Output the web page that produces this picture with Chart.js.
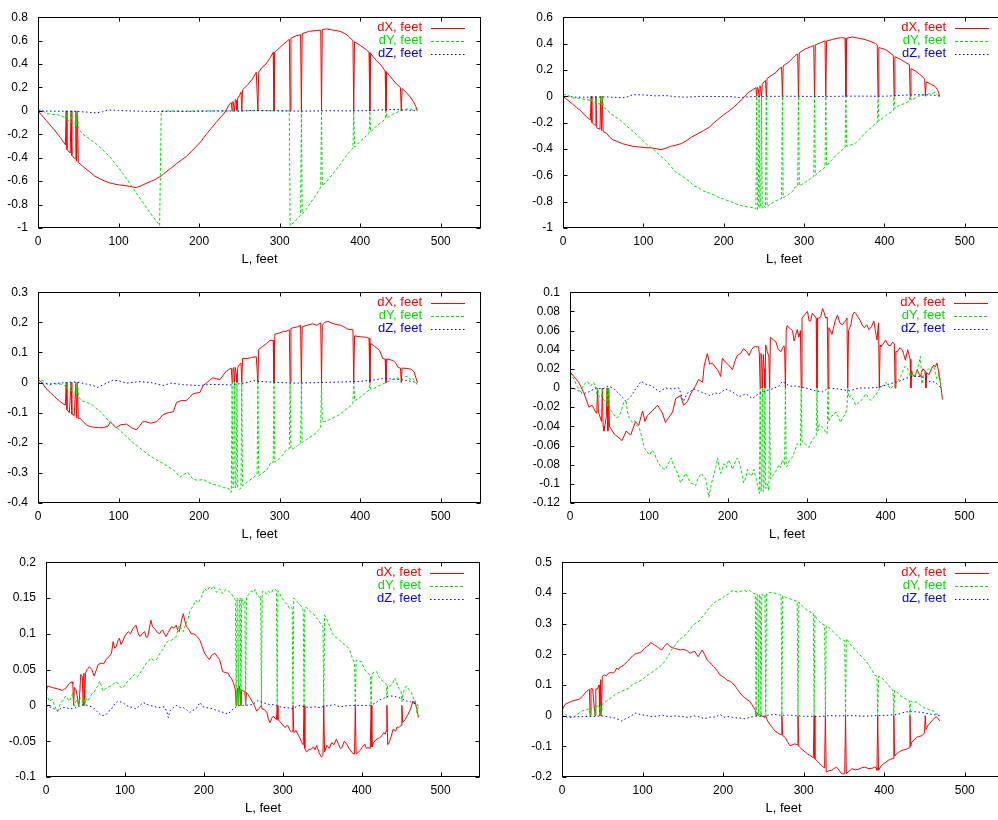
<!DOCTYPE html>
<html>
<head>
<meta charset="utf-8">
<script src="https://cdn.jsdelivr.net/npm/chart.js@4.4.1/dist/chart.umd.min.js"></script>
<style>
  html, body { margin: 0; padding: 0; background: #fff; overflow: hidden; width: 998px; height: 820px; }
  canvas { position: absolute; }
</style>
</head>
<body>
<canvas id="c1"></canvas>
<canvas id="c2"></canvas>
<canvas id="c3"></canvas>
<canvas id="c4"></canvas>
<canvas id="c5"></canvas>
<canvas id="c6"></canvas>
<script>
// series names and tick labels
const seriesNames = ['dX, feet', 'dY, feet', 'dZ, feet'];
const xTicks = [0, 100, 200, 300, 400, 500];
const yTicks1 = [-1, -0.8, -0.6, -0.4, -0.2, 0, 0.2, 0.4, 0.6, 0.8];
const yTicks2 = [-1, -0.8, -0.6, -0.4, -0.2, 0, 0.2, 0.4, 0.6];
const yTicks3 = [-0.4, -0.3, -0.2, -0.1, 0, 0.1, 0.2, 0.3];
const yTicks4 = [-0.12, -0.1, -0.08, -0.06, -0.04, -0.02, 0, 0.02, 0.04, 0.06, 0.08, 0.1];
const yTicks5 = [-0.1, -0.05, 0, 0.05, 0.1, 0.15, 0.2];
const yTicks6 = [-0.2, -0.1, 0, 0.1, 0.2, 0.3, 0.4, 0.5];

// panel 1, [L, value]
const p1X = [[0,0],[10,-0.08],[20,-0.16],[28,-0.23],[34,-0.29],[35,0],[36,-0.33],[40,-0.36],[41,0],[42,-0.38],[46,-0.41],[47,0],[48,-0.43],[49,0],[50,-0.44],[55,-0.47],[64,-0.52],[70,-0.555],[77,-0.58],[83,-0.6],[89,-0.615],[95,-0.625],[101,-0.632],[108,-0.638],[114,-0.645],[122,-0.655],[128,-0.64],[134,-0.62],[141,-0.6],[147,-0.58],[153,-0.555],[159,-0.52],[165,-0.49],[172,-0.45],[178,-0.42],[184,-0.39],[190,-0.35],[197,-0.3],[203,-0.255],[209,-0.2],[215,-0.15],[221,-0.1],[226,-0.06],[230,-0.03],[234,0.01],[238,0.06],[240,0.07],[241,0],[242,0.08],[243,0.05],[244,0],[245,0.1],[246,0.09],[247,0],[248,0.11],[250,0.13],[252,0.16],[253,0],[254,0.18],[260,0.22],[266,0.27],[271,0.33],[273,0],[274,0.33],[278,0.37],[283,0.4],[288,0.45],[292,0.5],[293,0],[294,0.5],[300,0.54],[305,0.57],[310,0.6],[312,0.61],[313,0],[314,0.62],[320,0.64],[326,0.65],[327,0],[328,0.66],[337,0.68],[344,0.685],[351,0.69],[352,0],[353,0.695],[358,0.7],[366,0.69],[375,0.68],[381,0.66],[385,0.64],[391,0.6],[392,0],[393,0.59],[400,0.56],[408,0.52],[411,0.5],[412,0],[413,0.49],[420,0.43],[426,0.39],[431,0.34],[432,0],[433,0.33],[440,0.27],[445,0.23],[450,0.2],[451,0],[452,0.19],[457,0.16],[462,0.12],[466,0.08],[469,0.04],[471,0]];
const p1Y = [[0,0.01],[5,0.005],[10,-0.02],[16,-0.03],[22,-0.03],[28,-0.04],[34,-0.06],[35,0],[36,-0.08],[40,-0.09],[41,0],[42,-0.1],[46,-0.12],[47,0],[48,-0.13],[49,0],[50,-0.15],[56,-0.2],[64,-0.24],[72,-0.28],[80,-0.33],[89,-0.39],[97,-0.46],[106,-0.54],[114,-0.62],[122,-0.7],[128,-0.76],[134,-0.82],[140,-0.88],[146,-0.93],[151,-0.98],[153,0],[160,0],[180,-0.003],[200,0],[240,0],[280,0.002],[312,0],[313,-0.98],[318,-0.95],[322,-0.92],[326,-0.89],[327,0],[328,-0.88],[333,-0.84],[340,-0.77],[346,-0.71],[351,-0.65],[352,0],[353,-0.64],[360,-0.59],[368,-0.52],[375,-0.46],[383,-0.38],[388,-0.34],[391,-0.32],[392,0],[393,-0.31],[400,-0.26],[408,-0.21],[411,-0.19],[412,0],[413,-0.18],[420,-0.13],[426,-0.1],[431,-0.07],[432,0],[433,-0.06],[440,-0.03],[445,-0.015],[450,0],[455,0.01],[461,0.02],[465,0.01],[468,0.02],[471,0]];
const p1Z = [[0,0],[15,-0.002],[30,-0.003],[45,-0.004],[60,-0.01],[72,-0.017],[80,-0.008],[86,0.005],[92,0.008],[100,0.003],[115,0],[130,-0.003],[150,-0.006],[170,-0.003],[190,-0.004],[210,-0.002],[230,0],[250,-0.002],[268,0.005],[280,0.002],[300,0],[330,-0.002],[360,0.001],[390,0],[410,0.002],[430,0.01],[445,0.012],[460,0.006],[471,0]];

// panel 2
const p2X = [[0,0],[6,-0.03],[12,-0.06],[17,-0.086],[22,-0.11],[28,-0.15],[34,-0.18],[35,0],[36,-0.2],[40,-0.22],[41,0],[42,-0.24],[46,-0.25],[47,0],[48,-0.26],[49,0],[50,-0.27],[54,-0.28],[58,-0.31],[62,-0.33],[68,-0.345],[74,-0.36],[80,-0.37],[87,-0.38],[95,-0.385],[103,-0.39],[110,-0.392],[116,-0.398],[122,-0.405],[128,-0.395],[134,-0.38],[140,-0.372],[147,-0.36],[153,-0.34],[160,-0.31],[169,-0.28],[175,-0.26],[182,-0.235],[188,-0.2],[194,-0.17],[200,-0.14],[207,-0.11],[213,-0.08],[219,-0.045],[225,-0.01],[230,0.025],[236,0.05],[240,0.065],[241,0],[242,0.07],[243,0.05],[244,0],[245,0.08],[246,0.06],[247,0],[248,0.09],[250,0.11],[252,0.12],[253,0],[254,0.135],[260,0.16],[265,0.18],[269,0.21],[272,0.22],[273,0],[274,0.23],[281,0.26],[286,0.29],[289,0.31],[292,0.32],[293,0],[294,0.33],[302,0.36],[308,0.375],[312,0.385],[313,0],[314,0.39],[320,0.405],[326,0.42],[327,0],[328,0.42],[335,0.43],[341,0.44],[347,0.445],[351,0.44],[352,0],[353,0.44],[360,0.45],[368,0.44],[376,0.43],[383,0.415],[389,0.4],[391,0.39],[392,0],[393,0.37],[401,0.355],[407,0.33],[411,0.31],[412,0],[413,0.3],[420,0.28],[426,0.257],[431,0.24],[432,0],[433,0.21],[439,0.19],[444,0.165],[449,0.14],[450,0.125],[451,0],[452,0.11],[458,0.09],[463,0.075],[466,0.05],[469,0]];
const p2Y = [[0,0.015],[5,0.01],[12,-0.012],[20,-0.015],[28,-0.025],[34,-0.03],[35,0],[36,-0.04],[40,-0.045],[41,0],[42,-0.05],[46,-0.06],[47,0],[48,-0.07],[49,0],[50,-0.08],[54,-0.1],[60,-0.135],[66,-0.16],[72,-0.185],[78,-0.22],[86,-0.26],[95,-0.31],[103,-0.36],[112,-0.4],[120,-0.445],[128,-0.49],[134,-0.53],[140,-0.575],[147,-0.6],[157,-0.645],[163,-0.68],[169,-0.695],[175,-0.72],[182,-0.735],[188,-0.75],[194,-0.77],[200,-0.78],[207,-0.797],[213,-0.81],[219,-0.826],[225,-0.835],[231,-0.84],[236,-0.845],[240,-0.855],[241,0],[242,-0.86],[243,-0.84],[244,0],[245,-0.85],[246,-0.84],[247,0],[248,-0.85],[250,-0.83],[252,-0.845],[253,0],[254,-0.84],[259,-0.815],[264,-0.797],[268,-0.785],[272,-0.775],[273,0],[274,-0.77],[281,-0.745],[286,-0.72],[289,-0.69],[292,-0.685],[293,0],[294,-0.68],[302,-0.65],[308,-0.625],[312,-0.61],[313,0],[314,-0.6],[318,-0.576],[324,-0.55],[326,-0.54],[327,0],[328,-0.53],[335,-0.48],[341,-0.44],[347,-0.41],[351,-0.39],[352,0],[353,-0.38],[358,-0.37],[364,-0.355],[370,-0.32],[376,-0.28],[382,-0.245],[388,-0.215],[391,-0.2],[392,0],[393,-0.19],[401,-0.15],[407,-0.125],[411,-0.11],[412,0],[413,-0.095],[417,-0.075],[423,-0.06],[430,-0.04],[431,-0.035],[432,0],[433,-0.03],[438,-0.015],[442,0],[448,0.008],[455,0.017],[460,0.025],[463,0.03],[466,0.01],[469,0]];
const p2Z = [[0,0],[16,-0.007],[37,-0.007],[54,-0.005],[74,-0.012],[82,-0.002],[87,0.012],[100,0.01],[115,0.003],[128,0.005],[140,-0.003],[153,-0.007],[170,-0.001],[190,-0.002],[210,-0.003],[219,-0.01],[235,-0.003],[252,-0.001],[280,0],[320,-0.002],[360,0.001],[400,0],[430,0.01],[442,0.012],[455,0.01],[463,0.007],[469,0]];

// panel 3
const p3X = [[0,0.01],[5,0],[10,-0.02],[16,-0.035],[21,-0.048],[26,-0.06],[31,-0.07],[34,-0.075],[35,0],[36,-0.09],[39,-0.1],[41,0],[42,-0.105],[45,-0.11],[47,0],[48,-0.118],[49,0],[50,-0.12],[52,-0.118],[56,-0.13],[60,-0.14],[64,-0.146],[68,-0.148],[75,-0.15],[81,-0.15],[87,-0.145],[90,-0.13],[93,-0.14],[97,-0.15],[103,-0.14],[110,-0.138],[116,-0.15],[122,-0.157],[126,-0.145],[130,-0.13],[134,-0.13],[140,-0.135],[147,-0.13],[151,-0.12],[155,-0.107],[162,-0.1],[168,-0.097],[172,-0.066],[178,-0.06],[184,-0.06],[188,-0.05],[192,-0.038],[196,-0.035],[201,-0.033],[205,-0.01],[210,0],[214,0.01],[217,0.016],[222,0.012],[226,0.01],[230,0.025],[234,0.038],[238,0.045],[240,0.048],[241,0],[242,0.045],[243,0.05],[244,0],[245,0.05],[246,0.03],[247,0],[248,0.05],[250,0.06],[252,0.065],[253,0],[254,0.08],[260,0.08],[265,0.083],[271,0.086],[273,0],[274,0.11],[279,0.12],[284,0.13],[288,0.14],[292,0.14],[293,0],[294,0.16],[300,0.165],[305,0.17],[308,0.17],[312,0.175],[313,0],[314,0.18],[317,0.182],[322,0.185],[326,0.19],[327,0],[328,0.185],[334,0.19],[341,0.195],[346,0.19],[351,0.198],[352,0],[353,0.19],[356,0.2],[360,0.203],[365,0.197],[370,0.193],[376,0.19],[381,0.183],[385,0.177],[391,0.175],[392,0],[393,0.155],[400,0.152],[408,0.15],[411,0.147],[412,0],[413,0.13],[418,0.12],[424,0.107],[428,0.08],[431,0.078],[432,0],[433,0.078],[438,0.075],[441,0.073],[444,0.065],[447,0.05],[450,0.048],[451,0],[452,0.048],[457,0.047],[462,0.045],[464,0.043],[467,0.035],[471,0]];
const p3Y = [[0,0.02],[3,0.01],[7,0.005],[14,-0.01],[18,-0.003],[23,-0.005],[28,-0.005],[33,-0.01],[34,-0.012],[35,0],[36,-0.02],[40,-0.025],[41,0],[42,-0.03],[46,-0.035],[47,0],[48,-0.04],[49,0],[50,-0.045],[54,-0.06],[60,-0.065],[64,-0.07],[68,-0.075],[72,-0.086],[77,-0.095],[81,-0.107],[87,-0.125],[93,-0.14],[100,-0.155],[106,-0.17],[112,-0.185],[118,-0.2],[124,-0.212],[130,-0.225],[137,-0.24],[143,-0.25],[149,-0.26],[155,-0.268],[162,-0.28],[168,-0.29],[172,-0.3],[176,-0.315],[180,-0.306],[186,-0.298],[192,-0.32],[198,-0.325],[205,-0.322],[211,-0.33],[217,-0.338],[224,-0.342],[230,-0.349],[236,-0.35],[240,-0.365],[241,0],[242,-0.35],[243,-0.345],[244,0],[245,-0.35],[246,-0.34],[247,0],[248,-0.35],[250,-0.355],[252,-0.35],[253,0],[254,-0.343],[260,-0.33],[267,-0.316],[272,-0.305],[273,0],[274,-0.31],[279,-0.3],[284,-0.29],[290,-0.263],[292,-0.265],[293,0],[294,-0.265],[300,-0.252],[304,-0.24],[308,-0.225],[312,-0.22],[313,0],[314,-0.22],[317,-0.22],[322,-0.21],[325,-0.204],[326,-0.2],[327,0],[328,-0.2],[333,-0.19],[337,-0.182],[342,-0.175],[348,-0.16],[351,-0.15],[352,0],[353,-0.13],[358,-0.128],[366,-0.118],[372,-0.11],[379,-0.097],[384,-0.085],[387,-0.08],[391,-0.07],[392,0],[393,-0.06],[397,-0.055],[402,-0.045],[408,-0.032],[411,-0.025],[412,0],[413,-0.022],[416,-0.021],[422,-0.012],[428,-0.005],[432,0],[436,0.005],[441,0.011],[446,0.015],[449,0.013],[452,0.01],[456,0.02],[459,0.021],[462,0.01],[465,0.015],[468,0.005],[471,-0.008]];
const p3Z = [[0,0],[14,-0.005],[35,0],[47,0.002],[60,-0.005],[68,-0.01],[74,-0.016],[85,-0.002],[93,0.008],[100,0.006],[110,-0.002],[125,0.003],[140,0],[155,-0.01],[165,-0.002],[180,-0.007],[200,-0.01],[215,-0.006],[240,-0.008],[260,0],[267,0.006],[280,0.003],[300,0],[320,-0.002],[350,0],[380,0.002],[400,0.004],[415,0.008],[428,0.013],[440,0.012],[455,0.008],[471,0]];

// panel 4
const p4X = [[0,0.017],[5,0.012],[11,0.006],[18,-0.006],[24,-0.02],[28,-0.018],[33,-0.026],[34,-0.023],[35,0],[36,-0.025],[40,-0.035],[41,0],[42,-0.04],[43,-0.045],[46,-0.03],[47,0],[48,-0.045],[49,0],[50,-0.04],[56,-0.048],[62,-0.052],[66,-0.055],[71,-0.045],[77,-0.049],[83,-0.035],[87,-0.039],[92,-0.024],[95,-0.035],[98,-0.029],[104,-0.024],[111,-0.018],[117,-0.026],[121,-0.036],[125,-0.031],[130,-0.025],[134,-0.011],[140,-0.008],[144,-0.018],[149,-0.014],[153,-0.006],[159,0.002],[163,0.009],[168,0.006],[170,0.023],[174,0.036],[177,0.025],[180,0.026],[184,0.022],[187,0.019],[191,0.012],[193,0.031],[197,0.027],[201,0.024],[206,0.019],[209,0.028],[212,0.034],[216,0.036],[220,0.041],[224,0.038],[227,0.034],[230,0.04],[233,0.043],[239,0.043],[240,0.035],[241,0],[242,0.036],[243,0.03],[244,0],[245,0.035],[246,0.02],[247,0],[248,0.045],[250,0.038],[252,0.033],[253,0],[254,0.053],[258,0.05],[261,0.048],[264,0.04],[267,0.038],[271,0.044],[272,0.042],[273,0],[274,0.06],[275,0.065],[279,0.062],[282,0.06],[284,0.049],[286,0.055],[288,0.061],[290,0.053],[292,0.06],[293,0],[294,0.073],[297,0.076],[301,0.08],[303,0.07],[305,0.07],[307,0.078],[309,0.076],[312,0.073],[313,0],[314,0.073],[316,0.073],[318,0.075],[320,0.083],[322,0.079],[324,0.073],[326,0.074],[327,0],[328,0.063],[332,0.056],[336,0.07],[339,0.076],[342,0.068],[345,0.066],[349,0.07],[351,0.073],[352,0],[353,0.06],[356,0.066],[358,0.076],[360,0.079],[362,0.078],[365,0.074],[368,0.07],[370,0.066],[373,0.063],[376,0.066],[379,0.061],[382,0.064],[385,0.07],[387,0.06],[389,0.05],[391,0.068],[392,0],[393,0.045],[394,0.043],[397,0.046],[400,0.05],[403,0.045],[406,0.044],[409,0.048],[411,0.046],[412,0],[413,0.038],[415,0.038],[418,0.042],[421,0.04],[423,0.035],[425,0.029],[428,0.04],[431,0.03],[432,0],[433,0.018],[434,0.014],[437,0.012],[440,0.019],[442,0.015],[444,0.012],[447,0.02],[449,0.019],[450,0.017],[451,0],[452,0.016],[455,0.014],[458,0.02],[461,0.024],[463,0.022],[465,0.026],[467,0.018],[468,0.012],[470,0.002],[472,-0.012]];
const p4Y = [[0,0.016],[5,0.009],[9,0.002],[13,-0.004],[18,0.004],[22,0.007],[26,0.002],[30,0.006],[33,0],[34,-0.006],[35,0],[36,-0.008],[40,-0.01],[41,0],[42,-0.012],[46,-0.015],[47,0],[48,-0.02],[49,0],[50,-0.022],[54,-0.025],[57,-0.03],[60,-0.031],[63,-0.028],[66,-0.021],[68,-0.015],[71,-0.014],[73,-0.025],[75,-0.031],[79,-0.036],[82,-0.034],[85,-0.04],[88,-0.042],[90,-0.048],[92,-0.055],[94,-0.062],[98,-0.067],[101,-0.07],[104,-0.065],[107,-0.068],[109,-0.073],[112,-0.078],[115,-0.082],[118,-0.084],[121,-0.085],[125,-0.078],[128,-0.073],[131,-0.08],[134,-0.085],[137,-0.09],[140,-0.099],[144,-0.093],[147,-0.089],[150,-0.095],[153,-0.099],[156,-0.1],[159,-0.102],[162,-0.095],[166,-0.089],[169,-0.092],[172,-0.095],[174,-0.105],[176,-0.114],[179,-0.1],[182,-0.092],[185,-0.082],[187,-0.073],[189,-0.082],[191,-0.089],[193,-0.085],[195,-0.079],[198,-0.083],[201,-0.075],[204,-0.08],[206,-0.085],[209,-0.078],[212,-0.073],[214,-0.076],[216,-0.082],[218,-0.09],[220,-0.099],[223,-0.093],[225,-0.085],[227,-0.089],[230,-0.092],[233,-0.085],[236,-0.095],[239,-0.107],[240,-0.11],[241,0],[242,-0.108],[243,-0.1],[244,0],[245,-0.108],[246,-0.1],[247,0],[248,-0.105],[250,-0.1],[252,-0.107],[253,0],[254,-0.095],[256,-0.092],[259,-0.09],[262,-0.085],[265,-0.08],[267,-0.083],[269,-0.075],[272,-0.08],[273,0],[274,-0.082],[275,-0.082],[278,-0.076],[282,-0.072],[285,-0.065],[288,-0.058],[290,-0.06],[292,-0.06],[293,0],[294,-0.056],[297,-0.057],[300,-0.06],[303,-0.062],[306,-0.056],[309,-0.052],[312,-0.05],[313,0],[314,-0.045],[316,-0.038],[319,-0.04],[322,-0.043],[325,-0.048],[326,-0.047],[327,0],[328,-0.035],[330,-0.03],[334,-0.028],[337,-0.025],[340,-0.03],[343,-0.036],[346,-0.03],[349,-0.028],[351,-0.02],[352,0],[353,-0.01],[356,-0.008],[359,-0.012],[362,-0.018],[365,-0.016],[368,-0.014],[372,-0.01],[375,-0.006],[378,-0.01],[381,-0.013],[384,-0.01],[387,-0.008],[390,-0.004],[392,-0.001],[396,0.002],[400,0.006],[403,0.003],[406,-0.001],[410,0.003],[413,0.004],[416,0.008],[419,0.012],[422,0.018],[425,0.023],[428,0.02],[431,0.012],[432,0.016],[434,0.012],[436,0.011],[438,0.015],[440,0.019],[442,0.025],[444,0.033],[445,0.02],[446,0.004],[448,0.015],[451,0.016],[454,0.02],[457,0.019],[459,0.022],[461,0.023],[463,0.015],[465,0.009],[467,0.012],[468,0.016],[470,0.002],[471,-0.008]];
const p4Z = [[0,0],[7,-0.001],[16,-0.006],[24,-0.004],[33,0],[41,-0.001],[49,0.002],[56,-0.001],[62,-0.006],[67,-0.01],[71,-0.014],[77,-0.009],[83,-0.001],[87,0.003],[90,0.007],[96,0.004],[104,0.002],[113,-0.004],[121,0],[130,-0.001],[138,0],[144,-0.014],[148,-0.006],[157,-0.001],[163,-0.003],[172,-0.006],[178,-0.008],[183,-0.005],[189,-0.006],[197,-0.001],[206,-0.004],[214,-0.009],[223,-0.006],[231,-0.011],[239,-0.006],[248,-0.003],[256,-0.001],[265,0.002],[269,0.007],[278,0.002],[286,0.002],[299,0],[311,-0.003],[320,-0.004],[328,0],[341,-0.001],[354,-0.003],[366,0],[379,0],[392,0.001],[404,0.004],[417,0.007],[425,0.01],[434,0.012],[446,0.012],[455,0.007],[463,0.006],[470,0]];

// panel 5
const p5X = [[0,0.018],[2,0.027],[8,0.025],[15,0.023],[21,0.021],[25,0.024],[30,0.031],[33,0.033],[34,0.03],[35,0],[36,0.025],[38,0.022],[40,0.01],[41,0],[42,0.001],[44,0.043],[46,0.04],[47,0],[48,0.045],[49,0],[50,0.045],[52,0.05],[55,0.054],[58,0.05],[61,0.041],[64,0.05],[66,0.057],[70,0.059],[73,0.058],[76,0.064],[80,0.068],[83,0.073],[85,0.089],[87,0.08],[89,0.082],[91,0.09],[93,0.094],[95,0.085],[97,0.089],[100,0.097],[104,0.103],[107,0.1],[110,0.107],[114,0.112],[117,0.1],[119,0.096],[122,0.1],[125,0.103],[127,0.095],[129,0.096],[131,0.108],[133,0.119],[135,0.11],[138,0.107],[141,0.102],[144,0.1],[146,0.104],[148,0.105],[150,0.1],[152,0.096],[155,0.102],[159,0.11],[162,0.108],[165,0.112],[167,0.105],[169,0.103],[172,0.12],[174,0.128],[176,0.118],[178,0.11],[181,0.106],[184,0.1],[187,0.1],[190,0.098],[193,0.094],[195,0.091],[198,0.082],[201,0.073],[204,0.068],[207,0.064],[210,0.07],[214,0.073],[217,0.068],[220,0.064],[222,0.055],[224,0.047],[227,0.046],[231,0.045],[233,0.04],[235,0.038],[237,0.033],[239,0.027],[240,0.02],[241,0],[242,0.018],[243,0.024],[244,0],[245,0.027],[246,0.02],[247,0],[248,0.022],[250,0.02],[252,0.02],[253,0],[254,0.018],[256,0.015],[259,0.01],[262,0.004],[264,0],[267,-0.008],[270,-0.004],[272,-0.002],[273,0],[274,-0.005],[277,-0.006],[280,-0.01],[282,-0.02],[284,-0.024],[286,-0.018],[288,-0.015],[292,-0.02],[293,0],[294,-0.02],[296,-0.022],[299,-0.026],[303,-0.031],[305,-0.028],[307,-0.029],[309,-0.035],[311,-0.037],[312,-0.036],[313,0],[314,-0.038],[317,-0.035],[320,-0.042],[322,-0.046],[324,-0.052],[326,-0.055],[327,0],[328,-0.06],[330,-0.065],[333,-0.062],[336,-0.061],[339,-0.058],[341,-0.062],[343,-0.056],[346,-0.066],[349,-0.072],[351,-0.07],[352,0],[353,-0.065],[356,-0.056],[359,-0.06],[362,-0.052],[365,-0.055],[368,-0.047],[371,-0.055],[373,-0.06],[375,-0.059],[378,-0.05],[381,-0.054],[384,-0.06],[387,-0.065],[389,-0.067],[391,-0.068],[392,0],[393,-0.068],[396,-0.065],[398,-0.063],[401,-0.058],[404,-0.054],[406,-0.06],[408,-0.059],[411,-0.06],[412,0],[413,-0.058],[415,-0.052],[418,-0.048],[421,-0.046],[423,-0.045],[426,-0.042],[428,-0.038],[430,-0.04],[431,-0.036],[432,0],[433,-0.055],[434,-0.054],[437,-0.045],[440,-0.033],[443,-0.036],[445,-0.03],[447,-0.031],[450,-0.028],[451,0],[452,-0.024],[455,-0.02],[457,-0.016],[459,-0.012],[462,-0.005],[465,0.006],[467,0.002],[468,0.004],[470,-0.005],[472,-0.017]];
const p5Y = [[0,0.018],[2,0.012],[4,0.006],[8,0.008],[11,0],[13,-0.006],[15,-0.008],[17,-0.001],[19,0.004],[21,0.006],[23,0.01],[25,0.013],[28,0.008],[30,0.006],[32,0.012],[34,0.0175],[35,0],[36,-0.001],[38,0.006],[40,0.008],[41,0],[42,0.008],[44,0.01],[46,0.009],[47,0],[48,0.011],[49,0],[50,0.011],[53,0.006],[56,0.012],[59,0.0175],[62,0.02],[64,0.025],[66,0.027],[68,0.034],[70,0.028],[72,0.02],[74,0.022],[76,0.024],[80,0.026],[85,0.029],[88,0.033],[91,0.031],[94,0.026],[97,0.024],[100,0.028],[103,0.033],[106,0.036],[109,0.04],[112,0.043],[116,0.04],[119,0.045],[122,0.05],[125,0.055],[127,0.059],[130,0.062],[133,0.066],[136,0.063],[140,0.064],[143,0.07],[146,0.075],[149,0.08],[152,0.087],[155,0.09],[159,0.091],[162,0.094],[165,0.096],[167,0.105],[169,0.112],[171,0.108],[174,0.103],[176,0.11],[178,0.115],[180,0.121],[182,0.13],[184,0.135],[187,0.14],[190,0.147],[193,0.143],[195,0.148],[197,0.151],[199,0.158],[201,0.163],[204,0.16],[207,0.165],[209,0.162],[212,0.167],[214,0.163],[216,0.158],[218,0.16],[220,0.163],[222,0.16],[224,0.156],[226,0.16],[228,0.162],[231,0.16],[233,0.158],[235,0.156],[237,0.152],[239,0.149],[240,0.147],[241,0],[242,0.15],[243,0.148],[244,0],[245,0.145],[246,0.15],[247,0],[248,0.15],[250,0.14],[252,0.145],[253,0],[254,0.151],[257,0.155],[260,0.16],[263,0.158],[265,0.162],[267,0.156],[269,0.152],[271,0.151],[272,0.153],[273,0],[274,0.158],[275,0.16],[277,0.158],[279,0.156],[282,0.16],[284,0.157],[286,0.158],[288,0.162],[290,0.163],[292,0.16],[293,0],[294,0.16],[296,0.156],[299,0.15],[301,0.147],[303,0.144],[306,0.14],[309,0.135],[311,0.137],[312,0.135],[313,0],[314,0.15],[315,0.149],[318,0.145],[320,0.143],[322,0.14],[324,0.138],[326,0.132],[327,0],[328,0.136],[330,0.137],[333,0.133],[336,0.13],[339,0.128],[341,0.124],[343,0.122],[346,0.118],[349,0.112],[351,0.11],[352,0],[353,0.126],[356,0.12],[358,0.114],[360,0.11],[363,0.1],[366,0.096],[369,0.094],[372,0.091],[375,0.088],[379,0.084],[382,0.082],[385,0.077],[387,0.07],[389,0.064],[391,0.06],[392,0],[393,0.063],[396,0.062],[400,0.061],[402,0.055],[404,0.05],[407,0.046],[410,0.043],[411,0.042],[412,0],[413,0.043],[416,0.047],[419,0.047],[422,0.04],[425,0.036],[428,0.033],[430,0.031],[431,0.03],[432,0.01],[433,0.028],[436,0.027],[439,0.03],[442,0.038],[445,0.03],[447,0.024],[450,0.02],[451,0.005],[452,0.015],[455,0.025],[457,0.027],[460,0.022],[463,0.018],[465,0.012],[467,0.004],[468,0.008],[470,-0.01],[472,0]];
const p5Z = [[0,0],[4,-0.002],[8,-0.003],[12,-0.006],[15,-0.008],[20,-0.003],[25,-0.003],[30,-0.005],[36,-0.004],[44,0],[48,0.001],[53,0],[60,-0.003],[66,-0.01],[70,-0.014],[73,-0.014],[76,-0.013],[80,-0.008],[83,-0.005],[87,0.002],[91,0.006],[94,0.005],[97,0.004],[102,0],[106,-0.002],[110,-0.003],[114,-0.005],[118,-0.001],[123,0.004],[127,0.002],[131,0],[136,-0.001],[142,-0.003],[150,-0.002],[153,-0.008],[155,-0.017],[157,-0.008],[159,-0.005],[165,0],[170,-0.003],[174,-0.003],[178,-0.006],[182,-0.01],[186,-0.007],[190,-0.005],[195,0.004],[199,-0.002],[203,-0.003],[208,-0.004],[212,-0.005],[216,-0.007],[220,-0.008],[225,-0.01],[231,-0.012],[234,-0.008],[237,-0.005],[241,-0.002],[245,0],[250,0],[254,0],[258,0.001],[262,0.001],[266,0.005],[269,0.007],[272,0.005],[275,0.004],[280,0.002],[284,0.001],[288,0.001],[292,0],[297,-0.002],[301,-0.003],[305,-0.003],[309,-0.004],[313,-0.005],[317,-0.002],[322,0],[328,-0.002],[334,-0.003],[340,-0.002],[347,-0.003],[353,-0.001],[360,0],[366,0.001],[372,-0.002],[378,-0.001],[385,0],[392,0],[398,0],[404,0],[411,0],[417,0.003],[423,0.008],[428,0.01],[434,0.013],[440,0.013],[447,0.011],[452,0.009],[457,0.006],[462,0.005],[468,0.002],[472,0]];

// panel 6
const p6X = [[0,0.015],[2,0.028],[4,0.037],[8,0.042],[12,0.047],[16,0.05],[21,0.053],[25,0.062],[29,0.074],[31,0.08],[33,0.085],[34,0.086],[35,0],[36,0.088],[38,0.087],[41,0],[42,0.087],[44,0.087],[46,0.1],[47,0],[48,0.117],[49,0],[50,0.128],[53,0.133],[55,0.13],[58,0.139],[61,0.14],[64,0.139],[66,0.145],[68,0.155],[70,0.15],[72,0.158],[74,0.16],[78,0.168],[81,0.176],[84,0.185],[87,0.192],[90,0.2],[93,0.203],[96,0.205],[99,0.209],[102,0.218],[105,0.225],[108,0.23],[110,0.238],[112,0.235],[115,0.23],[118,0.225],[121,0.218],[124,0.214],[127,0.225],[130,0.235],[132,0.232],[134,0.225],[137,0.222],[140,0.219],[143,0.217],[147,0.214],[150,0.216],[153,0.214],[156,0.21],[159,0.203],[162,0.207],[165,0.209],[167,0.2],[169,0.192],[172,0.205],[174,0.214],[177,0.2],[180,0.182],[183,0.175],[186,0.166],[188,0.16],[190,0.155],[193,0.145],[196,0.133],[199,0.128],[202,0.123],[205,0.115],[209,0.112],[212,0.105],[215,0.096],[218,0.085],[221,0.074],[224,0.065],[227,0.058],[230,0.052],[233,0.047],[236,0.035],[238,0.026],[240,0.018],[241,0],[242,0.01],[243,0.008],[244,0],[245,0.005],[246,0.003],[247,0],[248,-0.001],[250,-0.003],[252,-0.006],[253,0],[254,-0.01],[256,-0.02],[258,-0.028],[261,-0.038],[264,-0.049],[267,-0.055],[270,-0.06],[272,-0.062],[273,0],[274,-0.065],[277,-0.071],[280,-0.085],[283,-0.098],[286,-0.095],[289,-0.092],[292,-0.095],[293,0],[294,-0.1],[295,-0.103],[298,-0.11],[302,-0.119],[305,-0.125],[308,-0.13],[311,-0.135],[312,-0.138],[313,0],[314,-0.141],[317,-0.148],[320,-0.157],[323,-0.165],[326,-0.17],[327,0],[328,-0.184],[331,-0.18],[335,-0.178],[338,-0.172],[341,-0.168],[344,-0.178],[347,-0.189],[350,-0.19],[351,-0.188],[352,0],[353,-0.189],[356,-0.182],[360,-0.173],[364,-0.177],[368,-0.175],[372,-0.17],[376,-0.168],[380,-0.172],[384,-0.173],[388,-0.168],[390,-0.17],[391,-0.178],[392,0],[393,-0.178],[396,-0.165],[399,-0.157],[402,-0.152],[405,-0.146],[408,-0.142],[411,-0.14],[412,0],[413,-0.132],[415,-0.125],[418,-0.12],[421,-0.114],[424,-0.112],[428,-0.109],[431,-0.105],[432,0],[433,-0.1],[434,-0.087],[437,-0.08],[440,-0.071],[443,-0.068],[446,-0.066],[449,-0.06],[450,-0.055],[451,0],[452,-0.045],[454,-0.033],[457,-0.024],[461,-0.012],[463,-0.006],[465,-0.004],[467,-0.01],[469,-0.017]];
const p6Y = [[0,0.02],[2,0.008],[4,0.004],[8,-0.001],[11,-0.004],[14,-0.006],[17,0],[19,0.004],[22,0.01],[25,0.015],[28,0.018],[31,0.02],[34,0.022],[35,0],[36,0.023],[38,0.025],[40,0.03],[41,0],[42,0.031],[44,0.03],[46,0.033],[47,0],[48,0.035],[49,0],[50,0.037],[54,0.045],[58,0.053],[62,0.06],[66,0.069],[70,0.075],[74,0.08],[78,0.083],[83,0.09],[87,0.1],[91,0.106],[95,0.11],[99,0.117],[103,0.125],[107,0.133],[111,0.14],[116,0.149],[120,0.157],[124,0.166],[127,0.175],[130,0.187],[133,0.2],[136,0.214],[140,0.228],[145,0.246],[149,0.254],[153,0.262],[157,0.275],[161,0.289],[165,0.3],[169,0.305],[172,0.315],[176,0.327],[179,0.338],[182,0.348],[186,0.36],[190,0.37],[194,0.376],[198,0.381],[202,0.39],[207,0.397],[210,0.405],[213,0.408],[216,0.404],[219,0.402],[223,0.406],[227,0.408],[230,0.404],[233,0.408],[236,0.4],[240,0.397],[241,0],[242,0.395],[243,0.39],[244,0],[245,0.395],[246,0.39],[247,0],[248,0.395],[250,0.392],[252,0.395],[253,0],[254,0.397],[257,0.4],[260,0.402],[263,0.4],[267,0.397],[270,0.395],[272,0.392],[273,0],[274,0.39],[277,0.386],[280,0.383],[283,0.381],[286,0.378],[289,0.375],[292,0.372],[293,0],[294,0.37],[295,0.365],[298,0.358],[302,0.348],[305,0.342],[308,0.338],[312,0.335],[313,0],[314,0.328],[316,0.316],[319,0.308],[322,0.3],[326,0.295],[327,0],[328,0.292],[331,0.289],[334,0.28],[337,0.273],[340,0.265],[343,0.257],[346,0.25],[349,0.246],[351,0.245],[352,0],[353,0.251],[356,0.24],[360,0.225],[364,0.215],[368,0.203],[372,0.192],[376,0.182],[379,0.172],[382,0.16],[385,0.148],[388,0.133],[391,0.128],[392,0],[393,0.128],[397,0.123],[401,0.112],[405,0.101],[409,0.085],[411,0.083],[412,0],[413,0.082],[415,0.08],[418,0.07],[421,0.063],[425,0.057],[428,0.053],[431,0.05],[432,0],[433,0.048],[436,0.042],[439,0.045],[442,0.042],[446,0.032],[449,0.026],[452,0.024],[455,0.02],[458,0.018],[461,0.015],[463,0.012],[465,0.004],[467,0.006],[469,0]];
const p6Z = [[0,0],[8,-0.006],[15,-0.004],[25,-0.003],[37,-0.003],[50,-0.001],[58,-0.004],[64,-0.007],[68,-0.01],[74,-0.017],[79,-0.01],[85,-0.003],[91,0.008],[97,0.004],[103,0.001],[112,-0.003],[120,-0.001],[124,0.002],[132,-0.003],[140,-0.001],[150,-0.003],[157,-0.006],[164,-0.001],[170,-0.004],[177,-0.01],[184,-0.005],[191,-0.004],[196,0.004],[201,-0.005],[206,-0.003],[212,-0.006],[220,-0.008],[227,-0.01],[233,-0.006],[240,-0.002],[248,-0.003],[255,0.001],[264,0.004],[272,0.001],[280,0.002],[290,0],[300,-0.002],[310,-0.002],[320,-0.003],[330,0],[345,-0.001],[360,0],[375,-0.002],[390,0],[405,0.001],[417,0.004],[426,0.012],[434,0.013],[442,0.012],[450,0.009],[459,0.004],[465,0.002],[469,0]];

// layout of the six panels (page pixels): canvas box and plot box
const panels = [
  { id: 'c1', left: 0,   top: 0,   w: 499, h: 275, plot: [38, 481, 10, 228],  yTicks: yTicks1, series: [p1X, p1Y, p1Z] },
  { id: 'c2', left: 499, top: 0,   w: 510, h: 275, plot: [563, 1005, 10, 228], yTicks: yTicks2, series: [p2X, p2Y, p2Z] },
  { id: 'c3', left: 0,   top: 275, w: 499, h: 270, plot: [38, 481, 285, 503], yTicks: yTicks3, series: [p3X, p3Y, p3Z] },
  { id: 'c4', left: 499, top: 275, w: 510, h: 270, plot: [570, 1004, 285, 503], yTicks: yTicks4, series: [p4X, p4Y, p4Z] },
  { id: 'c5', left: 0,   top: 545, w: 499, h: 275, plot: [46, 480, 560, 777], yTicks: yTicks5, series: [p5X, p5Y, p5Z] },
  { id: 'c6', left: 499, top: 545, w: 510, h: 275, plot: [562, 1005, 560, 777], yTicks: yTicks6, series: [p6X, p6Y, p6Z] }
];

const colors = ['#ff0000', '#00e000', '#0000ff'];
const dashes = [[], [3, 2], [1.5, 2.5]];
const FONT = 'Liberation Sans, Arial, Helvetica, sans-serif';

// gnuplot-like frame with inward tick marks, plus the key in the top right corner
const gnuFrame = {
  id: 'gnuFrame',
  afterDatasetsDraw(chart) {
    const { ctx, chartArea: a, scales } = chart;
    const L = Math.round(a.left) + 0.5, R = Math.round(a.right) - 0.5;
    const T = Math.round(a.top) + 0.5, B = Math.round(a.bottom) - 0.5;
    ctx.save();
    ctx.strokeStyle = '#000';
    ctx.lineWidth = 1;
    ctx.strokeRect(L, T, R - L, B - T);
    ctx.beginPath();
    scales.x.ticks.forEach(t => {
      const px = Math.round(scales.x.getPixelForValue(t.value)) + 0.5;
      ctx.moveTo(px, B); ctx.lineTo(px, B - 4);
      ctx.moveTo(px, T); ctx.lineTo(px, T + 4);
    });
    scales.y.ticks.forEach(t => {
      const py = Math.round(scales.y.getPixelForValue(t.value)) + 0.5;
      ctx.moveTo(L, py); ctx.lineTo(L + 4, py);
      ctx.moveTo(R, py); ctx.lineTo(R - 4, py);
    });
    ctx.stroke();

    // key
    ctx.font = '13px ' + FONT;
    ctx.textAlign = 'right';
    ctx.textBaseline = 'middle';
    chart.data.datasets.forEach((ds, i) => {
      const y = a.top + 10.7 + i * 13;
      ctx.fillStyle = ds.borderColor;
      ctx.fillText(ds.label, a.right - 59, y);
      ctx.strokeStyle = ds.borderColor;
      ctx.setLineDash(ds.borderDash);
      ctx.beginPath();
      ctx.moveTo(a.right - 50, Math.round(y) + 0.5);
      ctx.lineTo(a.right - 16, Math.round(y) + 0.5);
      ctx.stroke();
    });
    ctx.restore();
  }
};

function makeChart(p) {
  const cv = document.getElementById(p.id);
  cv.width = p.w; cv.height = p.h;
  cv.style.left = p.left + 'px'; cv.style.top = p.top + 'px';
  cv.style.width = p.w + 'px'; cv.style.height = p.h + 'px';
  const [pl, pr, pt, pb] = p.plot;
  const yWidth = pl - p.left;
  const xHeight = p.top + p.h - pb;
  const titleCenter = pb + 31;
  const titlePad = (p.top + p.h) - titleCenter - 7.8;

  return new Chart(cv.getContext('2d'), {
    type: 'line',
    data: {
      datasets: p.series.map((s, i) => ({
        label: seriesNames[i],
        data: s.map(([x, y]) => ({ x, y })),
        borderColor: colors[i],
        borderWidth: 1,
        borderDash: dashes[i],
        pointRadius: 0,
        fill: false,
        tension: 0,
        order: 3 - i
      }))
    },
    options: {
      responsive: false,
      animation: false,
      events: [],
      layout: { padding: { left: 0, top: pt - p.top, right: p.left + p.w - pr, bottom: 0 } },
      plugins: { legend: { display: false }, tooltip: { enabled: false } },
      scales: {
        x: {
          type: 'linear',
          min: 0,
          max: 550,
          grid: { display: false, drawTicks: false },
          border: { display: false },
          afterBuildTicks: s => { s.ticks = xTicks.map(v => ({ value: v })); },
          afterFit: s => { s.height = xHeight; },
          ticks: {
            autoSkip: false,
            maxRotation: 0,
            padding: 6,
            color: '#000',
            font: { family: FONT, size: 12 },
            callback: v => String(v)
          },
          title: {
            display: true,
            text: 'L, feet',
            color: '#000',
            font: { family: FONT, size: 13 },
            padding: { top: 0, bottom: titlePad }
          }
        },
        y: {
          type: 'linear',
          min: p.yTicks[0],
          max: p.yTicks[p.yTicks.length - 1],
          grid: { display: false, drawTicks: false },
          border: { display: false },
          afterBuildTicks: s => { s.ticks = p.yTicks.map(v => ({ value: v })); },
          afterFit: s => { s.width = yWidth; },
          ticks: {
            autoSkip: false,
            padding: 10,
            color: '#000',
            font: { family: FONT, size: 12 },
            callback: v => String(v)
          }
        }
      }
    },
    plugins: [gnuFrame]
  });
}

panels.forEach(makeChart);
</script>
</body>
</html>
